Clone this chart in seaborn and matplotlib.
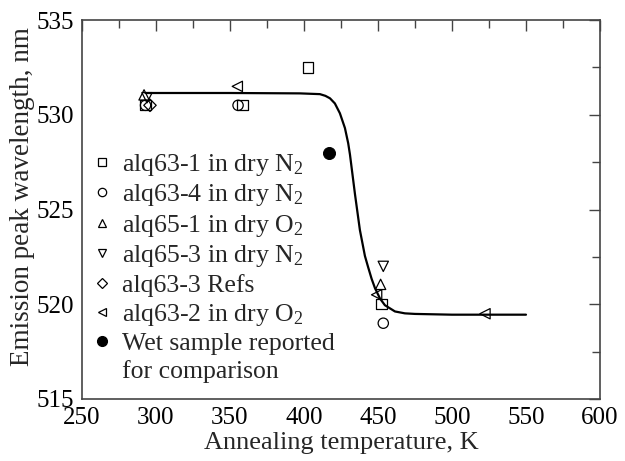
import numpy as np
import pandas as pd
import seaborn as sns
import matplotlib
matplotlib.use("Agg")
import matplotlib.pyplot as plt
from matplotlib.lines import Line2D
from matplotlib.ticker import MultipleLocator

sns.set_theme(style="white")
plt.rcParams['font.family'] = ['Liberation Serif', 'DejaVu Serif']
plt.rcParams['mathtext.fontset'] = 'custom'
plt.rcParams['mathtext.rm'] = 'Liberation Serif'
plt.rcParams['mathtext.default'] = 'regular'

# Data
alq63_1_T = [293, 358.5, 402.7, 452.5]
alq63_1_W = [530.5, 530.5, 532.5, 520.0]
alq63_4_T = [293, 355.5, 453.6]
alq63_4_W = [530.5, 530.5, 519.0]
alq65_1_T = [292, 451.8]
alq65_1_W = [531.05, 521.05]
alq65_3_T = [294, 453.6]
alq65_3_W = [530.9, 522.0]
alq63_3_T = [296]
alq63_3_W = [530.5]
alq63_2_T = [355, 449.1, 522.3]
alq63_2_W = [531.5, 520.5, 519.5]
wet_T = [416.6]
wet_W = [528.0]

curve_T = [293, 350, 397.3, 410.8, 414.5, 417.6, 420.9, 424.3, 427.7, 429.9,
           431.1, 434.5, 437.8, 441.2, 443.4, 445.7, 448, 451.4, 454.7, 461.5,
           468.2, 475, 500, 550]
curve_W = [531.15, 531.15, 531.13, 531.09, 531.0, 530.87, 530.60, 530.08, 529.3,
           528.5, 527.9, 525.8, 523.92, 522.55, 521.95, 521.35, 520.85, 520.3,
           519.95, 519.62, 519.52, 519.49, 519.45, 519.45]

series = [
    ("alq63-1 in dry N$_2$", alq63_1_T, alq63_1_W, "s"),
    ("alq63-4 in dry N$_2$", alq63_4_T, alq63_4_W, "o"),
    ("alq65-1 in dry O$_2$", alq65_1_T, alq65_1_W, "^"),
    ("alq65-3 in dry N$_2$", alq65_3_T, alq65_3_W, "v"),
    ("alq63-3 Refs", alq63_3_T, alq63_3_W, "D"),
    ("alq63-2 in dry O$_2$", alq63_2_T, alq63_2_W, "<"),
]

fig = plt.figure(figsize=(6.25, 4.61), dpi=100)
ax = fig.add_axes([0.131, 0.1345, 0.829, 0.822])

sns.lineplot(x=curve_T, y=curve_W, ax=ax, color="black", lw=1.6, sort=False)

handles = []
for label, T, W, m in series:
    sz = 55 if m != "D" else 40
    sns.scatterplot(x=T, y=W, ax=ax, marker=m, s=sz, facecolor="none",
                    edgecolor="black", linewidth=0.9, zorder=3)
    handles.append(Line2D([], [], marker=m, ls="", mfc="none", mec="black",
                          mew=0.9, ms=6 if m != "D" else 5.5, label=label))
sns.scatterplot(x=wet_T, y=wet_W, ax=ax, marker="o", s=75, color="black",
                edgecolor="black", zorder=3)
handles.append(Line2D([], [], marker="o", ls="", color="black", ms=7,
                      label="Wet sample reported"))
handles.append(Line2D([], [], ls="", label="for comparison"))

ax.set_xlim(250, 600)
ax.set_ylim(515, 535)
ax.xaxis.set_major_locator(MultipleLocator(50))
ax.xaxis.set_minor_locator(MultipleLocator(25))
ax.yaxis.set_major_locator(MultipleLocator(5))
ax.yaxis.set_minor_locator(MultipleLocator(2.5))
ax.tick_params(which="both", direction="in", top=True, right=True,
               colors="#444444", labelcolor="black", labelsize=18, width=1.0)
ax.tick_params(which="major", length=8, pad=6)
ax.tick_params(which="minor", length=5.5)
for sp in ax.spines.values():
    sp.set_color("#444444")
    sp.set_linewidth(1.2)

ax.set_xlabel("Annealing temperature, K", fontsize=19, labelpad=2)
ax.set_ylabel("Emission peak wavelength, nm", fontsize=19.5, labelpad=1, y=0.535)

leg = ax.legend(handles=handles, loc="upper left", bbox_to_anchor=(0.0, 0.68),
                frameon=False, fontsize=18.5, handlelength=0.75, handletextpad=0.4,
                labelspacing=0.18, borderpad=0.0, borderaxespad=0.4)

fig.savefig("out.png", dpi=100)
